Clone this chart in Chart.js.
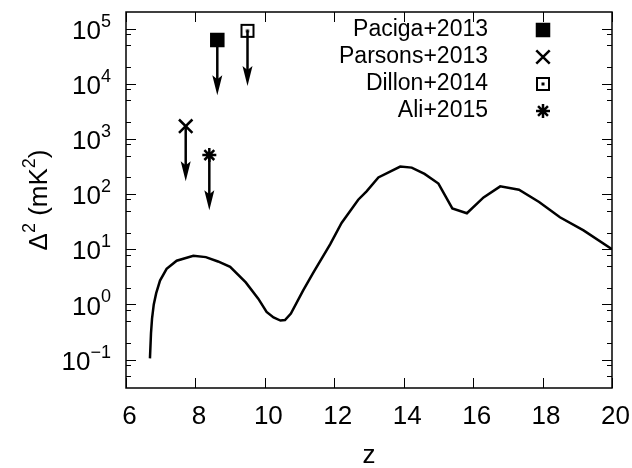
<!DOCTYPE html>
<html>
<head>
<meta charset="utf-8">
<script src="https://cdn.jsdelivr.net/npm/chart.js@4.4.1/dist/chart.umd.min.js"></script>
<style>
  html, body { margin: 0; padding: 0; background: #fff; }
</style>
</head>
<body>
<canvas id="chart" width="632" height="468"></canvas>
<script>
// model curve: redshift vs power (mK^2)
const redshift = [6.69, 6.72, 6.75, 6.8, 6.87, 6.98, 7.17, 7.46, 7.94, 8.3, 8.65, 9.0, 9.45, 9.81, 10.05, 10.25, 10.45, 10.58, 10.75, 11.1, 11.4, 11.88, 12.21, 12.69, 12.93, 13.27, 13.9, 14.23, 14.6, 15.0, 15.4, 15.82, 16.3, 16.78, 17.32, 17.9, 18.5, 19.18, 20.0];
const powerMk2 = [0.105, 0.3, 0.55, 1.0, 1.6, 2.7, 4.4, 6.2, 7.6, 7.2, 6.0, 4.8, 2.5, 1.27, 0.73, 0.58, 0.51, 0.52, 0.68, 1.78, 3.8, 12.3, 30, 79, 112, 200, 316, 302, 232, 155, 55, 45, 87, 138, 120, 72, 38, 22, 10];

// upper limits
const limitNames = ['Paciga+2013', 'Parsons+2013', 'Dillon+2014', 'Ali+2015'];
const limitZ = [8.63, 7.72, 9.5, 8.4];
const limitPower = [6.2e4, 1700, 9.1e4, 510];

const xTickValues = [6, 8, 10, 12, 14, 16, 18, 20];
const yDecades = [-1, 0, 1, 2, 3, 4, 5];
const yMinorFactors = [2, 5, 8];

const FONT = '"Liberation Sans", Arial, sans-serif';

function boxedDot() {
  const c = document.createElement('canvas');
  c.width = 16; c.height = 16;
  const g = c.getContext('2d');
  g.strokeStyle = '#000';
  g.lineWidth = 2;
  g.strokeRect(2, 2, 12, 12);
  g.fillStyle = '#000';
  g.fillRect(6.5, 6.5, 3, 3);
  return c;
}
const limitStyles = ['rect', 'crossRot', boxedDot(), 'star'];
const limitRadius = [8.5, 9.5, 8, 7];

function expText(e) {
  return String(e).replace('-', '\u2212');
}

// draw pieces left to right; sup pieces are smaller and raised
function drawRich(ctx, parts, x, y, big, small) {
  let cx = x;
  parts.forEach(([txt, sup]) => {
    ctx.font = (sup ? small : big) + 'px ' + FONT;
    ctx.fillText(txt, cx, sup ? y - big * 0.38 : y);
    cx += ctx.measureText(txt).width;
  });
  return cx - x;
}
function richWidth(ctx, parts, big, small) {
  let w = 0;
  parts.forEach(([txt, sup]) => {
    ctx.font = (sup ? small : big) + 'px ' + FONT;
    w += ctx.measureText(txt).width;
  });
  return w;
}

// arrows from each limit down one decade
const arrowPlugin = {
  id: 'arrows',
  beforeDatasetsDraw(chart) {
    const { ctx, scales: { x, y } } = chart;
    ctx.save();
    ctx.strokeStyle = '#000';
    ctx.fillStyle = '#000';
    ctx.lineWidth = 2.5;
    limitZ.forEach((z, i) => {
      const px = x.getPixelForValue(z);
      const top = y.getPixelForValue(limitPower[i]);
      const tip = y.getPixelForValue(limitPower[i] / 10);
      ctx.beginPath();
      ctx.moveTo(px, top);
      ctx.lineTo(px, tip - 12);
      ctx.stroke();
      ctx.beginPath();
      ctx.moveTo(px, tip);
      ctx.lineTo(px - 5, tip - 20);
      ctx.lineTo(px, tip - 16);
      ctx.lineTo(px + 5, tip - 20);
      ctx.closePath();
      ctx.fill();
    });
    ctx.restore();
  }
};

// gnuplot-like frame, inward ticks, labels and legend
const framePlugin = {
  id: 'frame',
  afterDraw(chart) {
    const { ctx, chartArea: a, scales: { x, y } } = chart;
    ctx.save();
    ctx.strokeStyle = '#000';
    ctx.lineWidth = 1.5;
    ctx.strokeRect(a.left, a.top, a.right - a.left, a.bottom - a.top);

    ctx.lineWidth = 1;
    ctx.beginPath();
    xTickValues.forEach(v => {
      const px = Math.round(x.getPixelForValue(v)) + 0.5;
      ctx.moveTo(px, a.bottom); ctx.lineTo(px, a.bottom - 10);
      ctx.moveTo(px, a.top); ctx.lineTo(px, a.top + 10);
    });
    const yMin = y.min, yMax = y.max;
    [-2].concat(yDecades).forEach(e => {
      const base = Math.pow(10, e);
      if (base > yMin && base < yMax) {
        const py = Math.round(y.getPixelForValue(base)) + 0.5;
        ctx.moveTo(a.left, py); ctx.lineTo(a.left + 10, py);
        ctx.moveTo(a.right, py); ctx.lineTo(a.right - 10, py);
      }
      yMinorFactors.forEach(f => {
        const v = f * base;
        if (v > yMin && v < yMax) {
          const py = Math.round(y.getPixelForValue(v)) + 0.5;
          ctx.moveTo(a.left, py); ctx.lineTo(a.left + 5, py);
          ctx.moveTo(a.right, py); ctx.lineTo(a.right - 5, py);
        }
      });
    });
    ctx.stroke();

    ctx.fillStyle = '#000';
    // x tick labels
    ctx.font = '26px ' + FONT;
    ctx.textAlign = 'center';
    ctx.textBaseline = 'middle';
    xTickValues.forEach(v => {
      ctx.fillText(String(v), x.getPixelForValue(v) + 3.5, a.bottom + 29);
    });

    // y tick labels 10^n
    ctx.textAlign = 'left';
    yDecades.forEach(e => {
      const py = y.getPixelForValue(Math.pow(10, e));
      const parts = [['10', false], [expText(e), true]];
      const w = richWidth(ctx, parts, 26, 18);
      drawRich(ctx, parts, 111 - w, py + 3, 26, 18);
    });

    // axis titles
    ctx.font = '26px ' + FONT;
    ctx.textAlign = 'center';
    ctx.fillText('z', (a.left + a.right) / 2, 456);
    ctx.save();
    ctx.translate(36, (a.top + a.bottom) / 2);
    ctx.rotate(-Math.PI / 2);
    ctx.textAlign = 'left';
    const title = [['\u0394', false], ['2', true], [' (mK', false], ['2', true], [')', false]];
    const tw = richWidth(ctx, title, 26, 18);
    drawRich(ctx, title, -tw / 2, 4, 26, 18);
    ctx.restore();

    // legend
    ctx.font = '23px ' + FONT;
    ctx.textAlign = 'right';
    ctx.lineWidth = 2.5;
    limitNames.forEach((name, i) => {
      const ly = 30 + i * 27;
      ctx.fillText(name, 488, ly);
      Chart.helpers.drawPoint(ctx, {
        pointStyle: limitStyles[i],
        radius: limitRadius[i],
        rotation: 0,
        borderWidth: 2.5
      }, 543, ly);
    });
    ctx.restore();
  }
};

const curve = redshift.map((z, i) => ({ x: z, y: powerMk2[i] }));

const limitSets = limitNames.map((name, i) => ({
  label: name,
  data: [{ x: limitZ[i], y: limitPower[i] }],
  showLine: false,
  pointStyle: limitStyles[i],
  pointRadius: limitRadius[i],
  pointBorderWidth: 2.5,
  pointBorderColor: '#000',
  pointBackgroundColor: '#000'
}));

new Chart(document.getElementById('chart').getContext('2d'), {
  type: 'line',
  data: {
    datasets: [{
      label: 'model',
      data: curve,
      borderColor: '#000',
      borderWidth: 2.5,
      pointRadius: 0,
      tension: 0,
      fill: false
    }].concat(limitSets)
  },
  options: {
    responsive: false,
    animation: false,
    layout: { padding: { top: 9, right: 20, left: 0, bottom: 0 } },
    plugins: {
      legend: { display: false },
      tooltip: { enabled: false }
    },
    scales: {
      x: {
        type: 'linear', min: 6, max: 20,
        grid: { display: false }, border: { display: false },
        ticks: { display: false },
        afterFit(s) { s.height = 80; }
      },
      y: {
        type: 'logarithmic', min: 0.0305, max: 2e5,
        grid: { display: false }, border: { display: false },
        ticks: { display: false },
        afterFit(s) { s.width = 126; }
      }
    }
  },
  plugins: [arrowPlugin, framePlugin]
});
</script>
</body>
</html>
